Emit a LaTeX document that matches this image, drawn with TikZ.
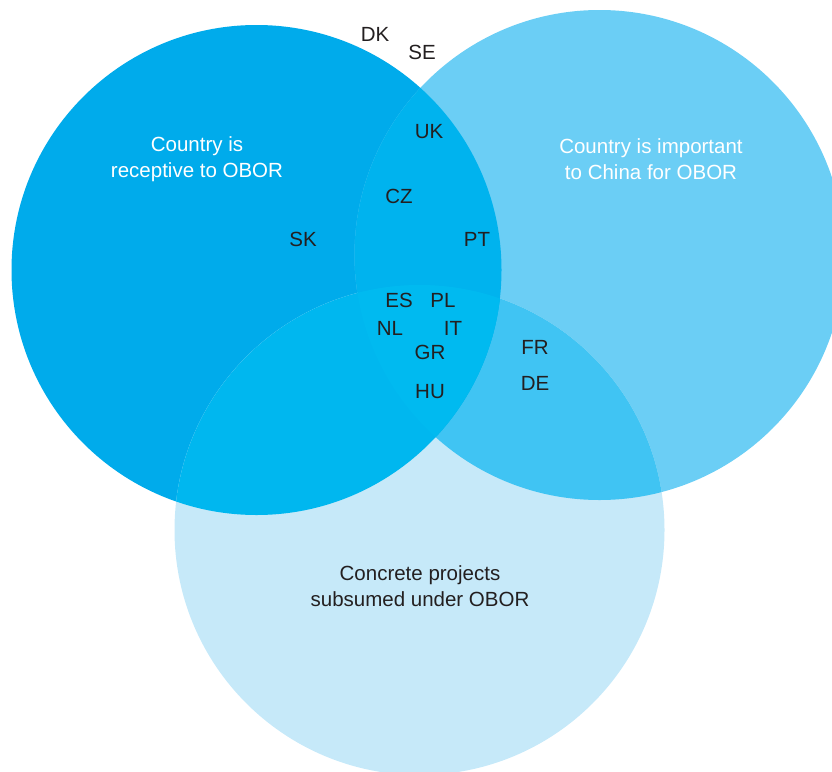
\documentclass[tikz,border=0pt]{standalone}
\usepackage{fontspec}
\setmainfont{Liberation Sans}
\definecolor{recfill}{HTML}{00ABEB}
\definecolor{impfill}{HTML}{6BCEF5}
\definecolor{profill}{HTML}{C6E9F9}
\definecolor{recimp}{HTML}{00B3EE}
\definecolor{recpro}{HTML}{00B7EF}
\definecolor{imppro}{HTML}{40C4F3}
\definecolor{allfill}{HTML}{00BAF0}
\definecolor{codegrey}{HTML}{231F20}
\begin{document}
\begin{tikzpicture}[x=1pt,y=-1pt,
    code/.style={text=codegrey,font=\fontsize{20.5}{25.5}\selectfont,inner sep=0pt},
    title/.style={code,align=center},
    whitetitle/.style={title,text=white}]
  \useasboundingbox (0,0) rectangle (832,771);
  \coordinate (rec) at (256.5,270);
  \coordinate (imp) at (599.5,255);
  \coordinate (pro) at (419.5,530);
  \fill[recfill] (rec) circle (245pt);
  \fill[impfill] (imp) circle (245pt);
  \fill[profill] (pro) circle (245pt);
  \begin{scope}
    \clip (imp) circle (245pt);
    \fill[imppro] (pro) circle (245pt);
  \end{scope}
  \begin{scope}
    \clip (rec) circle (245pt);
    \fill[recimp] (imp) circle (245pt);
    \fill[recpro] (pro) circle (245pt);
    \clip (imp) circle (245pt);
    \fill[allfill] (pro) circle (245pt);
  \end{scope}
  \draw
    (197,159) node[whitetitle] (receptive) {Country is\\receptive to OBOR}
    (651,159) node[whitetitle] (important) {Country is important\\to China for OBOR}
    (420,586) node[title] (projects) {Concrete projects\\subsumed under OBOR};
  \draw
    (375,34) node[code] (DK) {DK}
    (422,52) node[code] (SE) {SE}
    (429,132) node[code] (UK) {UK}
    (399,196) node[code] (CZ) {CZ}
    (303,239) node[code] (SK) {SK}
    (477,239) node[code] (PT) {PT}
    (399,300) node[code] (ES) {ES}
    (443,300) node[code] (PL) {PL}
    (390,328) node[code] (NL) {NL}
    (453,328) node[code] (IT) {IT}
    (430,352) node[code] (GR) {GR}
    (430,392) node[code] (HU) {HU}
    (535,347) node[code] (FR) {FR}
    (535,383) node[code] (DE) {DE};
\end{tikzpicture}
\end{document}
